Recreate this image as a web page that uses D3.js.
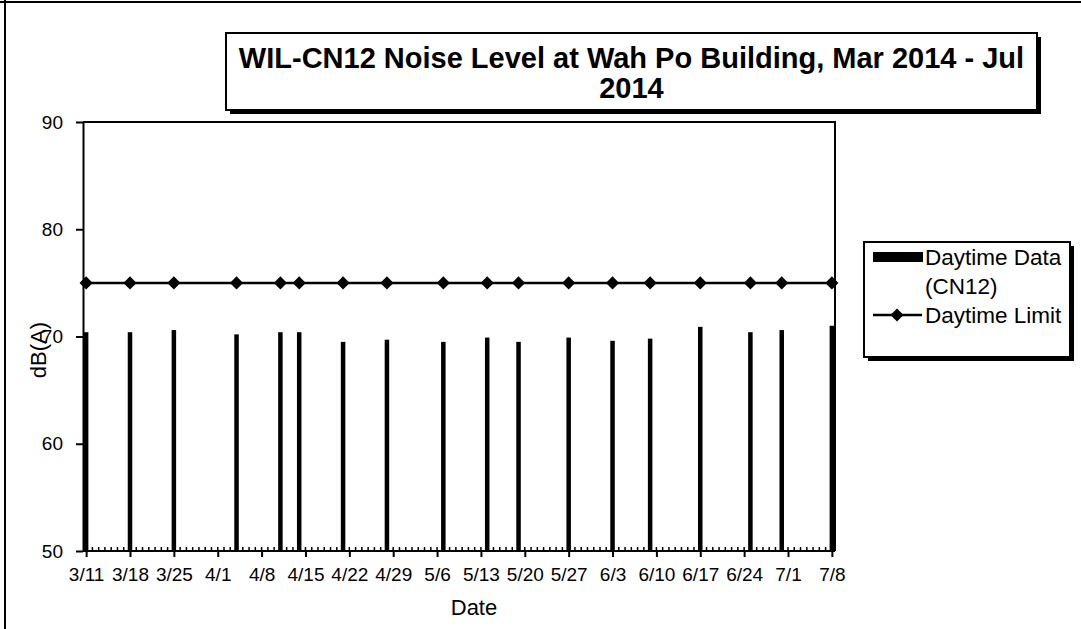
<!DOCTYPE html>
<html>
<head>
<meta charset="utf-8">
<script src="https://cdn.jsdelivr.net/npm/d3@7"></script>
<style>
  body { margin: 0; background: #fff; }
  svg { font-family: "Liberation Sans", Arial, sans-serif; }
</style>
</head>
<body>
<div id="chart"></div>
<script>
// data
const dates = ["2014-03-11", "2014-03-18", "2014-03-25", "2014-04-04", "2014-04-11", "2014-04-14",
               "2014-04-21", "2014-04-28", "2014-05-07", "2014-05-14", "2014-05-19", "2014-05-27",
               "2014-06-03", "2014-06-09", "2014-06-17", "2014-06-25", "2014-06-30", "2014-07-08"];
const daytimeData = [70.4, 70.4, 70.6, 70.2, 70.4, 70.4, 69.5, 69.7, 69.5, 69.9, 69.5, 69.9,
                     69.6, 69.8, 70.9, 70.4, 70.6, 71.0];
const daytimeLimit = [75, 75, 75, 75, 75, 75, 75, 75, 75, 75, 75, 75, 75, 75, 75, 75, 75, 75];
const yTicks = [50, 60, 70, 80, 90];
const titleLines = ["WIL-CN12 Noise Level at Wah Po Building, Mar 2014 - Jul", "2014"];
const legendLabels = [["Daytime Data", "(CN12)"], ["Daytime Limit"]];

const width = 1081, height = 629;
const parse = d3.timeParse("%Y-%m-%d");
const fmt = d3.timeFormat("%-m/%-d");

const svg = d3.select("#chart").append("svg")
    .attr("width", width)
    .attr("height", height);

// scan frame lines (left and top)
svg.append("line").attr("x1", 0).attr("x2", width).attr("y1", 2).attr("y2", 2)
    .attr("stroke", "#000").attr("stroke-width", 2);
svg.append("line").attr("x1", 5).attr("x2", 5).attr("y1", 0).attr("y2", height)
    .attr("stroke", "#000").attr("stroke-width", 2);

const plot = {left: 83, right: 835, top: 122, bottom: 551};

const x = d3.scaleTime()
    .domain([d3.timeHour.offset(parse("2014-03-11"), -12), d3.timeHour.offset(parse("2014-07-08"), 12)])
    .range([plot.left, plot.right]);
const y = d3.scaleLinear().domain([50, 90]).range([plot.bottom, plot.top]);

const rows = dates.map((d, i) => ({date: parse(d), value: daytimeData[i], limit: daytimeLimit[i]}));

// bars
svg.append("g").selectAll("rect")
    .data(rows)
    .join("rect")
    .attr("x", d => x(d.date) - 2.25)
    .attr("width", 4.5)
    .attr("y", d => y(d.value))
    .attr("height", d => y(50) - y(d.value))
    .attr("fill", "#000");

// limit line
svg.append("path")
    .datum(rows)
    .attr("fill", "none")
    .attr("stroke", "#000")
    .attr("stroke-width", 2.5)
    .attr("d", d3.line().x(d => x(d.date)).y(d => y(d.limit)));

const diamond = d3.symbol().type(d3.symbolDiamond2).size(110);
svg.append("g").selectAll("path")
    .data(rows)
    .join("path")
    .attr("transform", d => `translate(${x(d.date)},${y(d.limit)})`)
    .attr("d", diamond)
    .attr("fill", "#000");

// plot frame, top and right
svg.append("path")
    .attr("d", `M${plot.left},${plot.top}H${plot.right}V${plot.bottom}`)
    .attr("fill", "none").attr("stroke", "#000").attr("stroke-width", 2);

// minor day ticks, pointing up
const days = d3.timeDay.range(parse("2014-03-11"), d3.timeDay.offset(parse("2014-07-08"), 1));
svg.append("g").selectAll("line")
    .data(days)
    .join("line")
    .attr("x1", d => x(d)).attr("x2", d => x(d))
    .attr("y1", plot.bottom).attr("y2", plot.bottom - 4)
    .attr("stroke", "#000").attr("stroke-width", 1.5);

// x axis, weekly ticks
const xTicks = d3.range(0, 18).map(i => d3.timeDay.offset(parse("2014-03-11"), i * 7));
const xAxis = svg.append("g")
    .attr("transform", `translate(0,${plot.bottom})`)
    .call(d3.axisBottom(x).tickValues(xTicks).tickFormat(fmt).tickSize(6).tickSizeOuter(0));
xAxis.select(".domain").attr("stroke-width", 2).attr("d", `M${plot.left},0H${plot.right}`);
xAxis.selectAll(".tick line").attr("stroke-width", 2);
xAxis.selectAll(".tick text")
    .attr("y", 17)
    .attr("font-size", 19)
    .attr("font-family", "Liberation Sans, Arial, sans-serif")
    .attr("fill", "#000");

// y axis
const yAxis = svg.append("g")
    .attr("transform", `translate(${plot.left},0)`)
    .call(d3.axisLeft(y).tickValues(yTicks).tickSize(7).tickSizeOuter(0));
yAxis.select(".domain").attr("stroke-width", 2);
yAxis.selectAll(".tick line").attr("stroke-width", 2);
yAxis.selectAll(".tick text")
    .attr("x", -20)
    .attr("font-size", 19)
    .attr("font-family", "Liberation Sans, Arial, sans-serif")
    .attr("fill", "#000");

// axis titles
svg.append("text")
    .attr("x", 474)
    .attr("y", 615)
    .attr("text-anchor", "middle")
    .attr("font-size", 22)
    .text("Date");

svg.append("text")
    .attr("transform", "translate(46,350) rotate(-90)")
    .attr("text-anchor", "middle")
    .attr("font-size", 22)
    .text("dB(A)");

// title box
const tb = {x: 226, y: 33, w: 811, h: 77};
svg.append("rect").attr("x", tb.x + 4).attr("y", tb.y + 4).attr("width", tb.w).attr("height", tb.h).attr("fill", "#000");
svg.append("rect").attr("x", tb.x).attr("y", tb.y).attr("width", tb.w).attr("height", tb.h)
    .attr("fill", "#fff").attr("stroke", "#000").attr("stroke-width", 2);
svg.append("g").selectAll("text")
    .data(titleLines)
    .join("text")
    .attr("x", tb.x + tb.w / 2)
    .attr("y", (d, i) => 68 + i * 30)
    .attr("text-anchor", "middle")
    .attr("font-size", 29)
    .attr("font-weight", "bold")
    .text(d => d);

// legend
const lg = {x: 864, y: 242, w: 206, h: 115};
svg.append("rect").attr("x", lg.x + 4).attr("y", lg.y + 4).attr("width", lg.w).attr("height", lg.h).attr("fill", "#000");
svg.append("rect").attr("x", lg.x).attr("y", lg.y).attr("width", lg.w).attr("height", lg.h)
    .attr("fill", "#fff").attr("stroke", "#000").attr("stroke-width", 2);

svg.append("rect").attr("x", 873).attr("y", 252).attr("width", 50).attr("height", 10).attr("fill", "#000");
svg.append("line").attr("x1", 873).attr("x2", 922).attr("y1", 315).attr("y2", 315)
    .attr("stroke", "#000").attr("stroke-width", 2.5);
svg.append("path").attr("transform", "translate(897,315)").attr("d", diamond).attr("fill", "#000");

const legendText = svg.append("g").attr("font-size", 22.5);
legendText.append("text").attr("x", 925).attr("y", 265).text(legendLabels[0][0]);
legendText.append("text").attr("x", 925).attr("y", 294).text(legendLabels[0][1]);
legendText.append("text").attr("x", 925).attr("y", 323).text(legendLabels[1][0]);
</script>
</body>
</html>
